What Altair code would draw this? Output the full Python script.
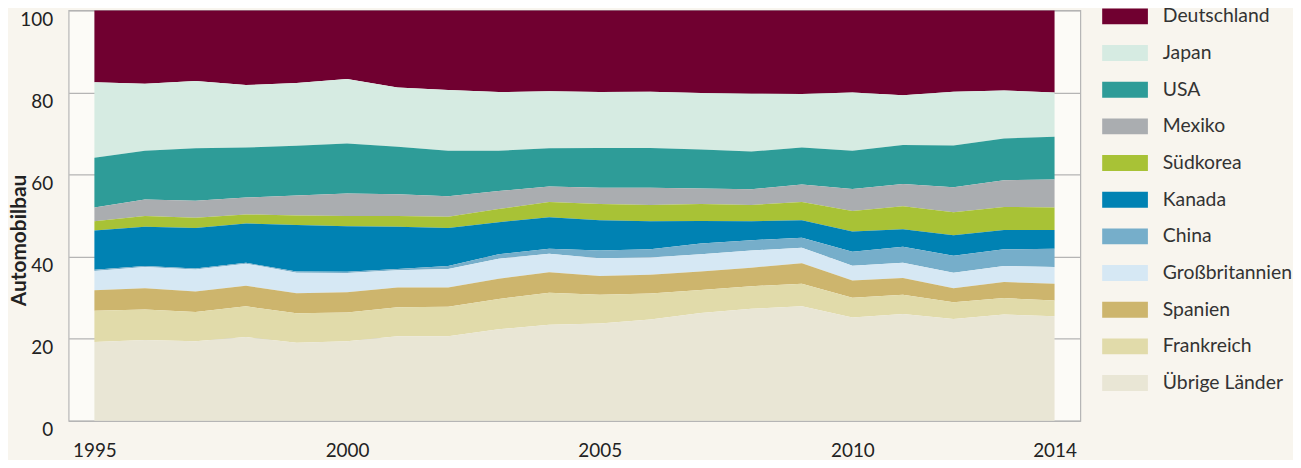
import altair as alt
import pandas as pd

years = list(range(1995, 2015))

laender = ["Deutschland", "Japan", "USA", "Mexiko", "Südkorea", "Kanada",
           "China", "Großbritannien", "Spanien", "Frankreich", "Übrige Länder"]

deutschland = [17.5, 17.9, 17.2, 18.2, 17.7, 16.7, 18.8, 19.4, 19.9, 19.7, 19.9, 19.8, 20.1, 20.3, 20.4, 20.0, 20.7, 19.8, 19.5, 20.0]
japan = [18.4, 16.3, 16.4, 15.2, 15.3, 15.7, 14.4, 14.8, 14.3, 13.9, 13.6, 13.7, 13.8, 14.1, 13.0, 14.2, 12.1, 13.1, 11.7, 10.8]
usa = [12.1, 11.9, 12.8, 12.2, 12.1, 12.2, 11.6, 11.1, 9.8, 9.3, 9.7, 9.7, 9.5, 9.2, 9.0, 9.3, 9.5, 10.2, 10.2, 10.4]
mexiko = [3.4, 4.0, 4.1, 4.1, 4.9, 5.5, 5.3, 5.0, 4.4, 3.8, 4.0, 4.2, 3.8, 3.8, 4.3, 5.4, 5.4, 6.1, 6.5, 6.8]
suedkorea = [2.2, 2.6, 2.5, 2.2, 2.3, 2.5, 2.6, 2.7, 3.2, 3.7, 3.9, 4.0, 4.1, 4.0, 4.4, 5.0, 5.6, 5.6, 5.6, 5.5]
kanada = [9.6, 9.6, 9.9, 9.6, 11.3, 11.1, 10.3, 9.3, 7.8, 7.7, 7.4, 6.8, 5.5, 4.6, 4.3, 4.9, 4.3, 5.0, 4.7, 4.6]
china = [0.3, 0.2, 0.2, 0.2, 0.3, 0.3, 0.3, 0.7, 1.1, 1.2, 1.9, 2.0, 2.6, 2.5, 2.4, 3.4, 3.9, 4.1, 4.1, 4.4]
grossbritannien = [4.7, 5.2, 5.4, 5.4, 5.0, 4.7, 4.2, 4.5, 4.9, 4.5, 4.3, 4.2, 4.2, 4.2, 3.8, 3.6, 3.7, 3.8, 3.9, 4.1]
spanien = [5.0, 5.2, 5.0, 5.0, 4.9, 4.9, 4.8, 4.7, 4.9, 5.0, 4.6, 4.6, 4.5, 4.5, 5.0, 4.2, 4.1, 3.4, 3.9, 4.1]
frankreich = [7.6, 7.4, 7.1, 7.5, 7.2, 7.0, 7.1, 7.2, 7.4, 7.8, 7.0, 6.3, 5.6, 5.5, 5.5, 4.8, 4.7, 4.1, 4.0, 3.8]
uebrige = [19.2, 19.7, 19.4, 20.4, 19.0, 19.4, 20.6, 20.6, 22.3, 23.4, 23.7, 24.7, 26.3, 27.3, 27.9, 25.2, 26.0, 24.8, 25.9, 25.5]

farben = ["#700030", "#d6ebe2", "#2e9c98", "#aaadb0", "#a8c236", "#0082b3",
          "#76aeca", "#d6e8f4", "#cdb56d", "#e1dbaa", "#e9e6d5"]

x_ticks = [1995, 2000, 2005, 2010, 2014]
y_ticks = [0, 20, 40, 60, 80, 100]

serien = [deutschland, japan, usa, mexiko, suedkorea, kanada, china,
          grossbritannien, spanien, frankreich, uebrige]

rows = []
n = len(laender)
for i, (name, vals) in enumerate(zip(laender, serien)):
    for jahr, v in zip(years, vals):
        rows.append({"Jahr": jahr, "Land": name, "Anteil": v, "stapel": n - 1 - i})
df = pd.DataFrame(rows)

FONT = "Lato"

chart = alt.Chart(df).mark_area(interpolate="linear").encode(
    x=alt.X("Jahr:Q",
            scale=alt.Scale(domain=[1994.49, 2014.51], nice=False, zero=False),
            axis=alt.Axis(values=x_ticks, format="d", title=None, grid=False,
                          ticks=False, domain=False, labelFlush=False,
                          labelBaseline="alphabetic", labelPadding=36,
                          labelFontSize=19, labelFont=FONT, labelColor="#222222")),
    y=alt.Y("Anteil:Q", stack="zero",
            scale=alt.Scale(domain=[0, 100], nice=False),
            axis=alt.Axis(values=y_ticks, title="Automobilbau", grid=True,
                          gridColor="#b5b5b5", gridWidth=1.2,
                          ticks=False, domain=False, labelFlush=False,
                          labelBaseline="alphabetic", labelOffset=15,
                          labelPadding=16, labelFontSize=19, labelFont=FONT,
                          labelColor="#222222",
                          titleFont=FONT, titleFontSize=21, titleFontWeight="bold",
                          titleColor="#222222", titleBaseline="middle",
                          titleAlign="center", titleX=-49.5, titleY=231)),
    color=alt.Color("Land:N",
                    scale=alt.Scale(domain=laender, range=farben),
                    legend=alt.Legend(title=None, orient="none",
                                      legendX=1040, legendY=-17,
                                      symbolType="M-1,-0.348H1V0.348H-1Z",
                                      symbolSize=2116, symbolStrokeWidth=0,
                                      symbolOpacity=1, labelFontSize=19.5,
                                      labelFont=FONT, labelColor="#333333",
                                      labelOffset=15, rowPadding=3.9,
                                      padding=0, labelLimit=300)),
    order=alt.Order("stapel:Q", sort="ascending"),
).properties(
    width=1018,
    height=413,
    autosize=alt.AutoSizeParams(type="none"),
    padding={"left": 61, "top": 1, "right": 214, "bottom": 38},
    background="#f8f5ee",
).configure_view(
    fill="#fcfbf7",
    stroke="#b5b5b5",
    strokeWidth=1.2,
)

chart.save("out.html", embed_options={"renderer": "svg", "actions": False})
